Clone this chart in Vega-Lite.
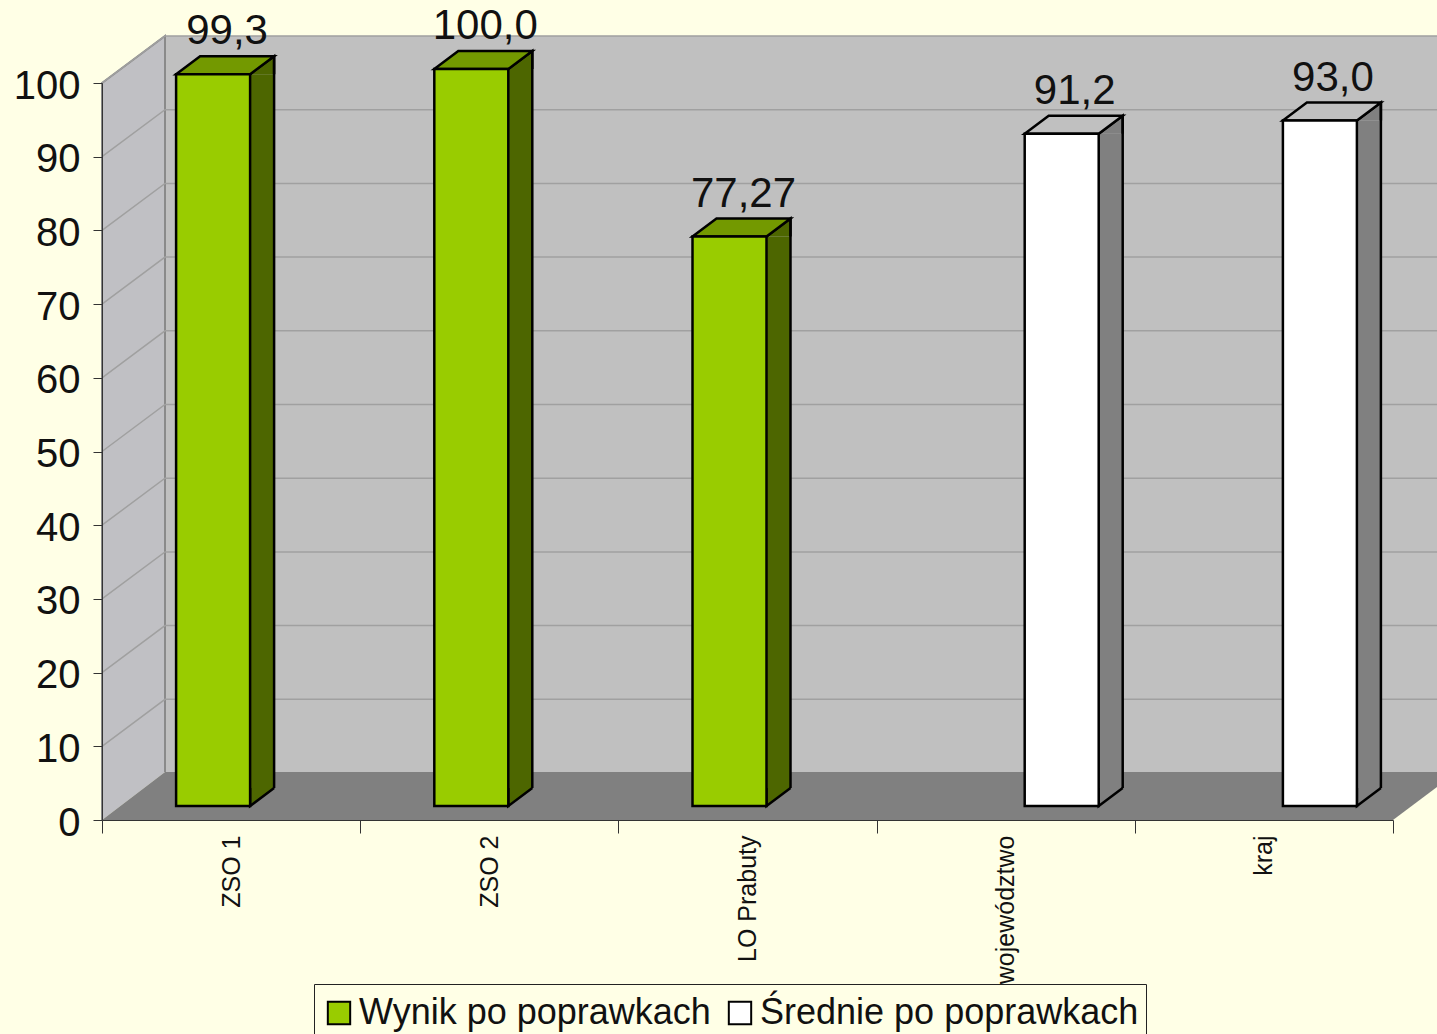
{"$schema":"https://vega.github.io/schema/vega-lite/v6.json","width":1291,"height":737,"autosize":"none","padding":{"left":102,"top":83,"right":44,"bottom":214},"background":"#FFFFE6","config":{"view":{"stroke":null},"font":"Liberation Sans"},"data":{"values":[{"szkola":"ZSO 1","wynik":99.3,"etykieta":"99,3","seria":"Wynik po poprawkach"},{"szkola":"ZSO 2","wynik":100,"etykieta":"100,0","seria":"Wynik po poprawkach"},{"szkola":"LO Prabuty","wynik":77.27,"etykieta":"77,27","seria":"Wynik po poprawkach"},{"szkola":"województwo","wynik":91.2,"etykieta":"91,2","seria":"Średnie po poprawkach"},{"szkola":"kraj","wynik":93,"etykieta":"93,0","seria":"Średnie po poprawkach"}]},"layer":[{"data":{"values":[{"poziom":0}]},"encoding":{"y":{"field":"poziom","type":"quantitative","scale":{"domain":[0,100],"nice":false},"axis":{"title":null,"values":[0,10,20,30,40,50,60,70,80,90,100],"grid":false,"domainColor":"#333333","tickColor":"#333333","tickSize":9,"labelFontSize":40,"labelFont":"Liberation Sans","labelColor":"#111111","labelPadding":13,"labelOffset":3,"zindex":1}}},"layer":[{"mark":{"type":"point","filled":true,"opacity":1,"size":4,"fill":"#C0C0C0","stroke":null,"clip":false,"shape":"M-582.5,-48 L689.5,-48 L689.5,-784 L-582.5,-784 Z"}},{"mark":{"type":"point","filled":true,"opacity":1,"size":4,"fill":"#C0C0C4","stroke":"#8A8A8A","strokeWidth":2,"shape":"M-582.5,-48 L-582.5,-784 L-645.5,-737 L-645.5,0"}},{"mark":{"type":"point","filled":true,"opacity":1,"size":4,"fill":"#808080","stroke":null,"shape":"M-645.5,0 L-582.5,-48 L689.5,-48 L689.5,-33 L645.5,0 Z"}}]},{"data":{"values":[{"t":10},{"t":20},{"t":30},{"t":40},{"t":50},{"t":60},{"t":70},{"t":80},{"t":90},{"t":100}]},"mark":{"type":"point","filled":false,"opacity":1,"size":4,"stroke":"#A0A0A0","strokeWidth":1.5,"shape":"M-645.5,0 L-582.5,-47 L689.5,-47"},"encoding":{"y":{"field":"t","type":"quantitative"}}},{"transform":[{"filter":"datum.seria === 'Wynik po poprawkach'"}],"encoding":{"x":{"field":"szkola","type":"nominal","sort":null,"scale":{"domain":["ZSO 1","ZSO 2","LO Prabuty","województwo","kraj"],"paddingInner":0,"paddingOuter":0},"axis":{"title":null,"tickBand":"extent","domainColor":"#333333","tickColor":"#333333","tickSize":13,"labelAngle":-90,"labelAlign":"right","labelBaseline":"middle","labelFontSize":25,"labelFont":"Liberation Sans","labelColor":"#111111","labelPadding":2,"labelOverlap":false,"labelBound":false,"labelFlush":false,"zindex":1}}},"layer":[{"mark":{"type":"bar","width":24,"fill":"#4D6600","xOffset":31,"yOffset":-14,"y2Offset":-32},"encoding":{"y":{"field":"wynik","type":"quantitative","stack":null},"y2":{"datum":0}}},{"mark":{"type":"point","filled":true,"opacity":1,"size":4,"fill":"#4D6600","stroke":"black","strokeWidth":2.5,"xOffset":-18,"yOffset":-14,"shape":"M37,-18 L37,0 L61,-18"},"encoding":{"y":{"datum":0}}},{"mark":{"type":"point","filled":true,"opacity":1,"size":4,"fill":"#4D6600","stroke":"black","strokeWidth":2.5,"xOffset":-18,"yOffset":-14,"shape":"M61,0 L61,-18 L37,0"},"encoding":{"y":{"field":"wynik","type":"quantitative"}}},{"mark":{"type":"rule","stroke":"black","strokeWidth":2.5,"xOffset":43,"yOffset":-32,"y2Offset":-32},"encoding":{"y":{"field":"wynik","type":"quantitative"},"y2":{"datum":0}}},{"mark":{"type":"point","filled":true,"opacity":1,"size":4,"fill":"#739900","stroke":"black","strokeWidth":2.5,"xOffset":-18,"yOffset":-14,"shape":"M-37,0 L37,0 L61,-18 L-13,-18 Z"},"encoding":{"y":{"field":"wynik","type":"quantitative"}}},{"mark":{"type":"bar","width":74,"stroke":"black","strokeWidth":2.5,"xOffset":-18,"yOffset":-14,"y2Offset":-14},"encoding":{"y":{"field":"wynik","type":"quantitative","stack":null},"y2":{"datum":0},"color":{"field":"seria","type":"nominal","scale":{"domain":["Wynik po poprawkach","Średnie po poprawkach"],"range":["#99CC00","#FFFFFF"]},"legend":{"title":null,"orient":"none","legendX":212,"legendY":901,"direction":"horizontal","fillColor":"#FFFFE6","strokeColor":"#222222","padding":7,"clipHeight":44,"symbolType":"square","symbolSize":500,"symbolStrokeColor":"#222222","symbolStrokeWidth":2,"labelFont":"Liberation Sans","labelFontSize":36,"labelColor":"#111111","labelLimit":500,"columnPadding":11,"labelOffset":2}}}},{"mark":{"type":"text","font":"Liberation Sans","fontSize":42,"fill":"#111111","align":"center","baseline":"alphabetic","xOffset":-4,"yOffset":-44},"encoding":{"y":{"field":"wynik","type":"quantitative"},"text":{"field":"etykieta"}}}]},{"transform":[{"filter":"datum.seria === 'Średnie po poprawkach'"}],"encoding":{"x":{"field":"szkola","type":"nominal","sort":null}},"layer":[{"mark":{"type":"bar","width":24,"fill":"#808080","xOffset":105,"yOffset":-14,"y2Offset":-32},"encoding":{"y":{"field":"wynik","type":"quantitative","stack":null},"y2":{"datum":0}}},{"mark":{"type":"point","filled":true,"opacity":1,"size":4,"fill":"#808080","stroke":"black","strokeWidth":2.5,"xOffset":56,"yOffset":-14,"shape":"M37,-18 L37,0 L61,-18"},"encoding":{"y":{"datum":0}}},{"mark":{"type":"point","filled":true,"opacity":1,"size":4,"fill":"#808080","stroke":"black","strokeWidth":2.5,"xOffset":56,"yOffset":-14,"shape":"M61,0 L61,-18 L37,0"},"encoding":{"y":{"field":"wynik","type":"quantitative"}}},{"mark":{"type":"rule","stroke":"black","strokeWidth":2.5,"xOffset":117,"yOffset":-32,"y2Offset":-32},"encoding":{"y":{"field":"wynik","type":"quantitative"},"y2":{"datum":0}}},{"mark":{"type":"point","filled":true,"opacity":1,"size":4,"fill":"#C0C0C0","stroke":"black","strokeWidth":2.5,"xOffset":56,"yOffset":-14,"shape":"M-37,0 L37,0 L61,-18 L-13,-18 Z"},"encoding":{"y":{"field":"wynik","type":"quantitative"}}},{"mark":{"type":"bar","width":74,"stroke":"black","strokeWidth":2.5,"xOffset":56,"yOffset":-14,"y2Offset":-14},"encoding":{"y":{"field":"wynik","type":"quantitative","stack":null},"y2":{"datum":0},"color":{"field":"seria","type":"nominal"}}},{"mark":{"type":"text","font":"Liberation Sans","fontSize":42,"fill":"#111111","align":"center","baseline":"alphabetic","xOffset":69,"yOffset":-44},"encoding":{"y":{"field":"wynik","type":"quantitative"},"text":{"field":"etykieta"}}}]}]}
